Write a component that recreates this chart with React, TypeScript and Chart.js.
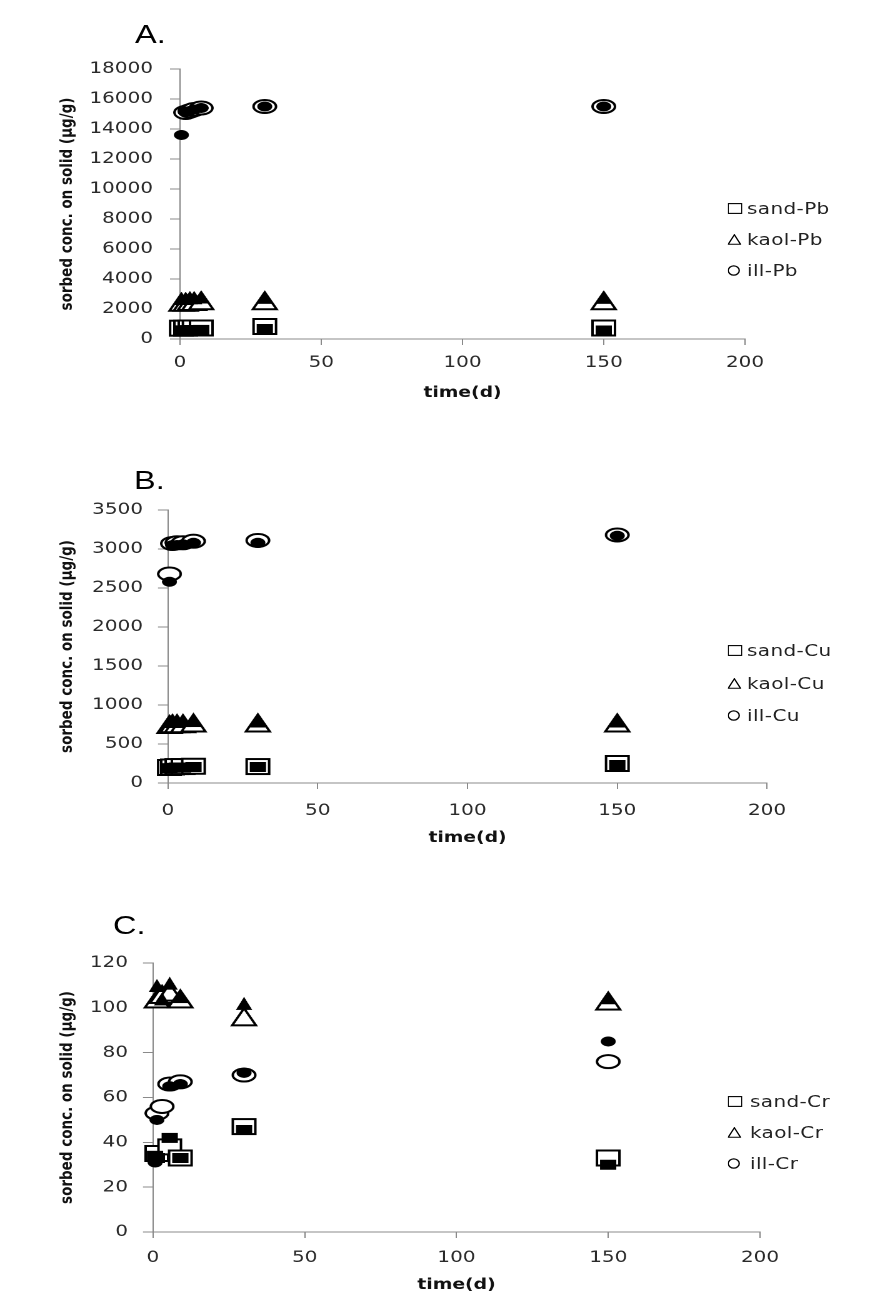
import React, { useEffect, useRef } from 'react';
import { Chart, registerables } from 'chart.js';

Chart.register(...registerables);

// ---------------- data ----------------
const timesPb = [0.5, 2, 3.5, 5, 7.5, 30, 150];
const sandPbOpen = [720, 720, 730, 730, 730, 830, 730];
const sandPbFilled = [580, 590, 600, 600, 610, 670, 570];
const kaolPbOpen = [2450, 2450, 2500, 2500, 2550, 2550, 2550];
const kaolPbFilled = [2700, 2700, 2750, 2750, 2800, 2780, 2780];
const illPbOpen = [null, 15100, 15200, 15300, 15400, 15500, 15500];
const illPbFilled = [13600, 15150, 15200, 15300, 15400, 15500, 15500];

const timesCu = [0.5, 1.5, 3, 5, 8.5, 30, 150];
const sandCuOpen = [200, 205, 210, 210, 215, 210, 250];
const sandCuFilled = [190, 195, 200, 200, 205, 205, 230];
const kaolCuOpen = [750, 760, 760, 760, 770, 770, 770];
const kaolCuFilled = [790, 790, 790, 800, 800, 795, 795];
const illCuOpen = [2680, 3070, 3080, 3080, 3100, 3110, 3180];
const illCuFilled = [2580, 3050, 3050, 3060, 3080, 3080, 3170];

const timesCr = [0.7, 1.3, 3, 5.5, 9, 30, 150];
const sandCrOpen = [null, 35, null, 38, 33, 47, 33];
const sandCrFilled = [34, 33, null, 42, 33, 45.5, 30];
const kaolCrOpen = [null, 104, 106, 107, 104, 96, 103];
const kaolCrFilled = [null, 110, 104, 111, 105, 102, 104.5];
const illCrOpen = [null, 53, 56, 66, 67, 70, 76];
const illCrFilled = [31, 50, null, 65, 66, 71, 85];

const xTicks = [0, 50, 100, 150, 200];
const yMaxPb = 18000, yStepPb = 2000;
const yMaxCu = 3500, yStepCu = 500;
const yMaxCr = 120, yStepCr = 20;

const X_TITLE = 'time(d)';
const Y_TITLE = 'sorbed conc. on solid (μg/g)';

// ---------------- layout ----------------
const S = 1.25; // horizontal stretch of the original scan
const W = 698; // inner width (page width / S)
const FONT = "'DejaVu Sans', Verdana, sans-serif";
const PAD_LEFT = 46;

type Shape = 'rect' | 'triangle' | 'circle';
type Val = number | null;

interface SeriesDef { name: string; shape: Shape; open: Val[]; filled: Val[] }
interface PanelDef {
  letter: string;
  times: number[];
  series: SeriesDef[];
  yMax: number; yStep: number;
  top: number; height: number; padTop: number; padBottom: number;
  plotLeft: number; plotRight: number;
  yTickPad: number; xTickPad: number; xTitlePad: number;
  letterX: number; letterTop: number;
  legendX: number; legendTextX: number; legendY: number[];
}

const panels: PanelDef[] = [
  {
    letter: 'A.', times: timesPb,
    series: [
      { name: 'sand-Pb', shape: 'rect', open: sandPbOpen, filled: sandPbFilled },
      { name: 'kaol-Pb', shape: 'triangle', open: kaolPbOpen, filled: kaolPbFilled },
      { name: 'ill-Pb', shape: 'circle', open: illPbOpen, filled: illPbFilled },
    ],
    yMax: yMaxPb, yStep: yStepPb,
    top: 40, height: 390, padTop: 29, padBottom: 21,
    plotLeft: 180, plotRight: 745,
    yTickPad: 13.6, xTickPad: 8.4, xTitlePad: 7,
    letterX: 135, letterTop: 21,
    legendX: 727, legendTextX: 747, legendY: [208, 239, 270],
  },
  {
    letter: 'B.', times: timesCu,
    series: [
      { name: 'sand-Cu', shape: 'rect', open: sandCuOpen, filled: sandCuFilled },
      { name: 'kaol-Cu', shape: 'triangle', open: kaolCuOpen, filled: kaolCuFilled },
      { name: 'ill-Cu', shape: 'circle', open: illCuOpen, filled: illCuFilled },
    ],
    yMax: yMaxCu, yStep: yStepCu,
    top: 480, height: 400, padTop: 30, padBottom: 27,
    plotLeft: 168, plotRight: 767,
    yTickPad: 12, xTickPad: 12.4, xTitlePad: 6,
    letterX: 134, letterTop: 467,
    legendX: 727, legendTextX: 747, legendY: [650, 683, 715],
  },
  {
    letter: 'C.', times: timesCr,
    series: [
      { name: 'sand-Cr', shape: 'rect', open: sandCrOpen, filled: sandCrFilled },
      { name: 'kaol-Cr', shape: 'triangle', open: kaolCrOpen, filled: kaolCrFilled },
      { name: 'ill-Cr', shape: 'circle', open: illCrOpen, filled: illCrFilled },
    ],
    yMax: yMaxCr, yStep: yStepCr,
    top: 930, height: 374, padTop: 33, padBottom: 2,
    plotLeft: 153, plotRight: 760,
    yTickPad: 12, xTickPad: 10.4, xTitlePad: 8,
    letterX: 113, letterTop: 912,
    legendX: 728, legendTextX: 750, legendY: [1101, 1132, 1163],
  },
];

// marker sizes in inner px [w, h]
const SIZES: Record<Shape, { open: [number, number]; filled: [number, number] }> = {
  circle: { open: [20, 15], filled: [12, 10] },
  rect: { open: [20, 17], filled: [13, 10] },
  triangle: { open: [21, 19], filled: [13, 13] },
};

function makeMarker(shape: Shape, filled: boolean): Promise<HTMLImageElement> {
  const [w, h] = filled ? SIZES[shape].filled : SIZES[shape].open;
  const pad = 1;
  const Wd = w + 2 * pad, Hd = h + 2 * pad;
  const k = 3;
  const c = document.createElement('canvas');
  c.width = Wd * k; c.height = Hd * k;
  const ctx = c.getContext('2d')!;
  ctx.scale(k, k);
  const lw = filled ? 0 : 2;
  const cx = Wd / 2, cy = Hd / 2;
  const rw = w / 2 - lw / 2, rh = h / 2 - lw / 2;
  ctx.beginPath();
  if (shape === 'circle') ctx.ellipse(cx, cy, rw, rh, 0, 0, Math.PI * 2);
  else if (shape === 'rect') ctx.rect(cx - rw, cy - rh, rw * 2, rh * 2);
  else {
    ctx.moveTo(cx, cy - rh);
    ctx.lineTo(cx + rw, cy + rh);
    ctx.lineTo(cx - rw, cy + rh);
    ctx.closePath();
  }
  ctx.fillStyle = filled ? '#000' : '#fff';
  ctx.fill();
  if (!filled) {
    ctx.lineWidth = lw;
    ctx.strokeStyle = '#000';
    ctx.lineJoin = 'miter';
    ctx.stroke();
  }
  const img = new Image(Wd, Hd);
  img.src = c.toDataURL();
  return img.decode().then(() => img, () => img);
}

function toPoints(times: number[], vals: Val[]) {
  const out: { x: number; y: number }[] = [];
  times.forEach((t, i) => {
    const v = vals[i];
    if (v !== null && v !== undefined) out.push({ x: t, y: v });
  });
  return out;
}

function Panel({ def }: { def: PanelDef }) {
  const ref = useRef<HTMLCanvasElement>(null);
  useEffect(() => {
    let chart: Chart | null = null;
    let cancelled = false;
    const shapes = def.series.map((s) => s.shape);
    Promise.all([
      ...shapes.map((sh) => makeMarker(sh, true)),
      ...shapes.map((sh) => makeMarker(sh, false)),
    ]).then((imgs) => {
      if (cancelled || !ref.current) return;
      const filledSets = def.series.map((s, i) => ({
        label: s.name + ' (filled)',
        data: toPoints(def.times, s.filled),
        pointStyle: imgs[i] as any,
        pointRadius: 6,
        showLine: false,
        clip: false as any,
      }));
      const openSets = def.series.map((s, i) => ({
        label: s.name,
        data: toPoints(def.times, s.open),
        pointStyle: imgs[i + shapes.length] as any,
        pointRadius: 9,
        showLine: false,
        clip: false as any,
      }));
      const left = def.plotLeft / S;
      const right = def.plotRight / S;
      const axisColor = '#8a8a8a';
      chart = new Chart(ref.current, {
        type: 'scatter',
        data: { datasets: [...filledSets, ...openSets] },
        options: {
          responsive: false,
          animation: false,
          devicePixelRatio: 2,
          events: [],
          layout: { padding: { left: PAD_LEFT, right: W - right, top: def.padTop, bottom: def.padBottom } },
          plugins: { legend: { display: false }, tooltip: { enabled: false }, title: { display: false } },
          scales: {
            x: {
              type: 'linear',
              min: xTicks[0],
              max: xTicks[xTicks.length - 1],
              afterFit: (s: any) => { s.height = 70; },
              afterBuildTicks: (s: any) => { s.ticks = xTicks.map((v) => ({ value: v })); },
              ticks: {
                font: { family: FONT, size: 16 },
                color: '#2a2a2a',
                padding: def.xTickPad,
                maxRotation: 0,
                callback: (v: any) => String(v),
              },
              grid: { drawOnChartArea: false, drawTicks: true, tickLength: 6, color: axisColor },
              border: { display: true, color: axisColor, width: 1 },
              title: {
                display: true, text: X_TITLE, color: '#111',
                font: { family: FONT, size: 15, weight: 'bold' },
                padding: { top: 0, bottom: def.xTitlePad },
              },
            },
            y: {
              type: 'linear',
              min: 0,
              max: def.yMax,
              afterFit: (s: any) => { s.width = left - PAD_LEFT; },
              ticks: {
                stepSize: def.yStep,
                font: { family: FONT, size: 16 },
                color: '#2a2a2a',
                padding: def.yTickPad,
                callback: (v: any) => String(v),
              },
              grid: { drawOnChartArea: false, drawTicks: true, tickLength: 8, color: axisColor },
              border: { display: true, color: axisColor, width: 1 },
              title: {
                display: true, text: Y_TITLE, color: '#111',
                font: { family: FONT, size: 13.5, weight: 'bold' },
                padding: { top: 0, bottom: 0 },
              },
            },
          },
        } as any,
      });
    });
    return () => {
      cancelled = true;
      if (chart) chart.destroy();
    };
  }, [def]);

  return (
    <>
      <canvas
        ref={ref}
        width={W}
        height={def.height}
        style={{ position: 'absolute', left: 0, top: def.top }}
      />
      <div
        style={{
          position: 'absolute', left: def.letterX / S, top: def.letterTop,
          font: "26px 'Liberation Sans', Arial, sans-serif", lineHeight: '26px', color: '#000',
          whiteSpace: 'nowrap',
        }}
      >
        {def.letter}
      </div>
      {def.series.map((s, i) => (
        <div
          key={s.name}
          style={{
            position: 'absolute', left: def.legendX / S, top: def.legendY[i] - 10, height: 20,
            display: 'flex', alignItems: 'center', whiteSpace: 'nowrap',
          }}
        >
          <div style={{ width: (def.legendTextX - def.legendX) / S, display: 'flex', alignItems: 'center' }}>
            <LegendIcon shape={s.shape} />
          </div>
          <span style={{ font: `16px ${FONT}`, color: '#222', letterSpacing: '0.3px' }}>{s.name}</span>
        </div>
      ))}
    </>
  );
}

function LegendIcon({ shape }: { shape: Shape }) {
  if (shape === 'rect') {
    return (
      <svg width={12} height={11} style={{ display: 'block' }}>
        <rect x={0.6} y={0.6} width={10.8} height={9.8} fill="#fff" stroke="#000" strokeWidth={1.1} />
      </svg>
    );
  }
  if (shape === 'triangle') {
    return (
      <svg width={11} height={11} style={{ display: 'block' }}>
        <polygon points="5.5,0.8 10.4,10.3 0.6,10.3" fill="#fff" stroke="#000" strokeWidth={1.1} />
      </svg>
    );
  }
  return (
    <svg width={10} height={11} style={{ display: 'block' }}>
      <ellipse cx={5} cy={5.5} rx={4.4} ry={4.6} fill="#fff" stroke="#000" strokeWidth={1.1} />
    </svg>
  );
}

export default function App() {
  return (
    <div
      style={{
        position: 'absolute', left: 0, top: 0, width: W, height: 1304,
        transform: `scaleX(${S})`, transformOrigin: '0 0', background: '#fff',
      }}
    >
      {panels.map((p) => (
        <Panel key={p.letter} def={p} />
      ))}
    </div>
  );
}
